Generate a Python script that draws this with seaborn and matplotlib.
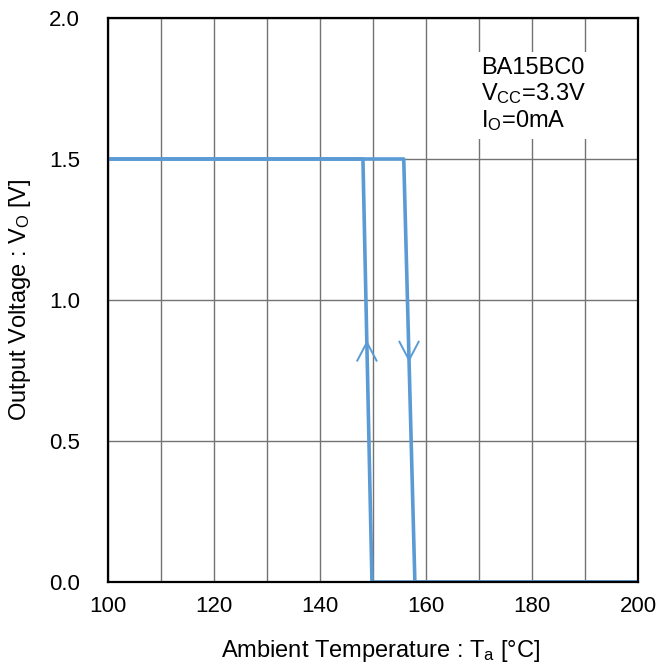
import matplotlib
matplotlib.use("Agg")
import matplotlib.pyplot as plt
import seaborn as sns
import pandas as pd
import numpy as np

# Data: thermal shutdown hysteresis
heat_T = [100, 155.8, 157.9, 200]
heat_V = [1.5, 1.5, 0.0, 0.0]
cool_T = [200, 149.8, 148.1, 100]
cool_V = [0.0, 0.0, 1.5, 1.5]

x_ticks = [100, 120, 140, 160, 180, 200]
y_ticks = [0.0, 0.5, 1.0, 1.5, 2.0]

# arrow markers (apex position, direction)
arrow_T = [148.85, 156.8]
arrow_V = [0.85, 0.787]
arrow_dir = [1, -1]

sns.set_theme(style="white")
plt.rcParams['font.family'] = ['Liberation Sans', 'DejaVu Sans']
plt.rcParams['text.color'] = 'black'
plt.rcParams['mathtext.fontset'] = 'custom'
plt.rcParams['mathtext.rm'] = 'Liberation Sans'
plt.rcParams['mathtext.it'] = 'Liberation Sans'

color = '#5B9BD5'
fig = plt.figure(figsize=(6.56, 6.67), dpi=100)
ax = fig.add_axes([108/656, 1-582/667, (638-108)/656, (582-18)/667])

df = pd.concat([
    pd.DataFrame({"T": heat_T, "V": heat_V, "path": "heat"}),
    pd.DataFrame({"T": cool_T, "V": cool_V, "path": "cool"}),
])
for name, g in df.groupby("path"):
    sns.lineplot(data=g, x="T", y="V", sort=False, ax=ax, color=color,
                 linewidth=2.6, estimator=None, zorder=3)

# chevron arrows
for t, v, d in zip(arrow_T, arrow_V, arrow_dir):
    ax.plot([t - 1.9, t, t + 1.9], [v - d*0.068, v, v - d*0.068],
            color=color, linewidth=1.4, zorder=3, solid_capstyle='butt')

ax.set_xlim(100, 200)
ax.set_ylim(0, 2.0)
ax.set_xticks(x_ticks)
ax.set_xticks(np.arange(100, 201, 10), minor=True)
ax.set_yticks(y_ticks)
ax.set_xticklabels([str(x) for x in x_ticks])
ax.set_yticklabels([f"{y:.1f}" for y in y_ticks])
ax.grid(True, which='both', axis='x', color='#737373', linewidth=1.0)
ax.grid(True, which='major', axis='y', color='#737373', linewidth=1.0)
ax.tick_params(axis='both', which='both', length=0, labelsize=16, colors='black')
ax.tick_params(axis='y', pad=20)
ax.tick_params(axis='x', pad=10)
for s in ax.spines.values():
    s.set_visible(True)
    s.set_color('black')
    s.set_linewidth(1.6)
    s.set_zorder(4)

ax.set_xlabel("Ambient Temperature : T$_\\mathregular{a}$ [°C]", fontsize=17, labelpad=14, color='black')
ax.xaxis.set_label_coords(0.515, -0.1)
ax.set_ylabel("Output Voltage : V$_\\mathregular{O}$ [V]", fontsize=17, labelpad=12, color='black')

ax.text(170.4, 1.862, "BA15BC0\nV$_\\mathregular{CC}$=3.3V\nI$_\\mathregular{O}$=0mA",
        fontsize=17, va='top', ha='left', linespacing=1.12, zorder=5, color='black',
        bbox=dict(facecolor='white', edgecolor='none', pad=4))

fig.savefig("out.png", dpi=100)
